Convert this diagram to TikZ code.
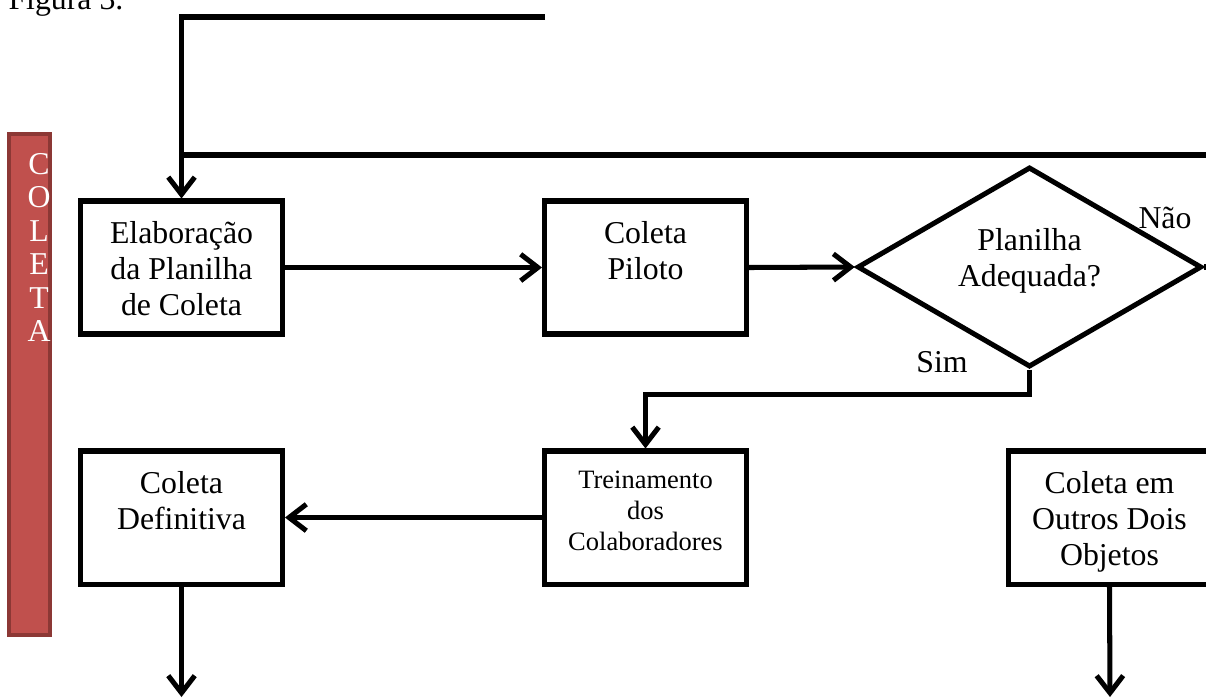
\documentclass[tikz,border=0pt]{standalone}
\usepackage{fontspec}
\setmainfont{Liberation Serif}
\usetikzlibrary{shapes.geometric,arrows.meta}

\definecolor{vermelho}{RGB}{192,80,77}
\definecolor{vermelhoescuro}{RGB}{140,56,53}

\begin{document}
\begin{tikzpicture}[x=0.3774pt, y=-0.3774pt,
        caixa/.style={draw, line width=1.9pt, minimum width=76.2pt, minimum height=50.2pt, inner sep=0pt, font=\fontsize{12}{13.7}\selectfont},
        losango/.style={draw, diamond, aspect=1.73, line width=1.9pt, minimum width=130pt, minimum height=75.5pt, inner sep=0pt, align=center, text depth=7pt, font=\fontsize{12}{13.7}\selectfont},
        rotulo/.style={inner sep=0pt, font=\fontsize{12}{13.7}\selectfont},
        letra/.style={text=white, inner sep=0pt, font=\fontsize{12}{14}\selectfont},
        seta/.style={line width=1.9pt, -{Straight Barb[length=6.5pt,width=10pt]}},
        linha/.style={line width=1.9pt}]
            \useasboundingbox (0,0) rectangle (1206,698);

            \node[rotulo, anchor=base west] (figura) at (8,9) {Figura 3.};

            \filldraw[fill=vermelho, draw=vermelhoescuro, line width=1.6pt] (9,134) rectangle (50,635);
            \node[letra] (c1) at (39,164) {C};
            \node[letra] (c2) at (39,197.4) {O};
            \node[letra] (c3) at (39,230.8) {L};
            \node[letra] (c4) at (39,264.2) {E};
            \node[letra] (c5) at (39,297.6) {T};
            \node[letra] (c6) at (39,331) {A};

            \node[caixa] (elab) at (181.5,267.5) {\parbox[c][50pt][t]{74pt}{\centering\rule{0pt}{15.8pt}Elaboração\\da Planilha\\de Coleta}};
            \node[caixa] (piloto) at (645.5,267.5) {\parbox[c][50pt][t]{74pt}{\centering\rule{0pt}{15.8pt}Coleta\\Piloto}};
            \node[losango] (decisao) at (1029.5,267) {Planilha\\Adequada?};
            \node[caixa] (def) at (181.5,517.5) {\parbox[c][50pt][t]{74pt}{\centering\rule{0pt}{15.8pt}Coleta\\Definitiva}};
            \node[caixa] (trein) at (645.5,517.5) {\parbox[c][50pt][t]{74pt}{\centering\fontsize{10}{11.7}\selectfont\rule{0pt}{14pt}Treinamento\\dos\\Colaboradores}};
            \node[caixa] (outros) at (1109.5,517.5) {\parbox[c][50pt][t]{74pt}{\centering\rule{0pt}{15.8pt}Coleta em\\Outros Dois\\Objetos}};

            \node[rotulo] (nao) at (1165,218) {Não};
            \node[rotulo] (sim) at (942,362) {Sim};

            \coordinate (topo) at (545,17);
            \coordinate (juncao) at (181.5,155);
            \coordinate (volta) at (1235,155);
            \coordinate (fimA) at (181.5,697);
            \coordinate (fimB) at (1110,697);

            \draw[seta] (topo) -| (elab.north);
            \draw[linha] (decisao.east) -| (volta) -- (juncao);
            \draw[seta] (elab.east) -- (piloto.west);
            \draw[seta] (piloto.east) -- (decisao.west);
            \draw[seta] (decisao.south) -- ++(0,25) -| (trein.north);
            \draw[seta] (trein.west) -- (def.east);
            \draw[seta] (def.south) -- (fimA);
            \draw[seta] (outros.south) -- (fimB);
        \end{tikzpicture}
\end{document}
